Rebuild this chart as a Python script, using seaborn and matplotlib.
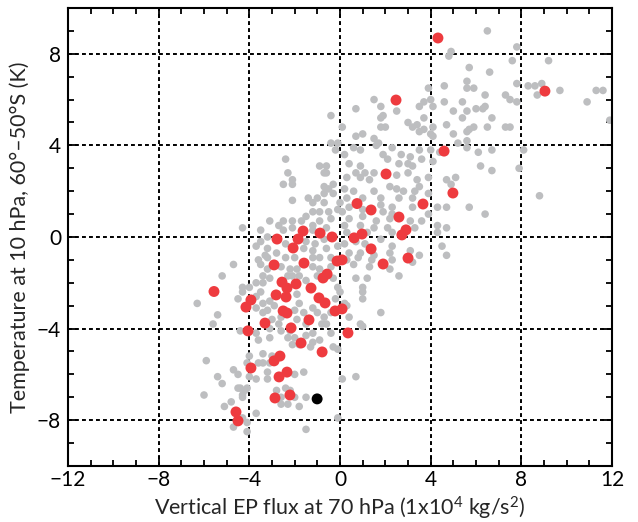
import matplotlib
matplotlib.use('Agg')
import pandas as pd
import matplotlib.pyplot as plt
import seaborn as sns
from matplotlib.ticker import MultipleLocator

# (EP flux, temperature) pairs, one list per group
gray_pts = [
    (6.5, 9.0), (7.8, 8.3), (4.9, 8.1), (4.8, 7.9), (7.6, 7.7), (9.2, 7.7), (5.7, 7.4), (6.6, 7.2),
    (5.6, 6.8), (5.6, 6.5), (5.9, 6.5), (4.6, 6.6), (3.9, 6.5), (7.8, 6.7), (8.3, 6.6), (8.6, 6.6),
    (8.9, 6.7), (8.7, 6.2), (9.7, 6.4), (11.3, 6.4), (11.6, 6.4), (10.9, 5.9), (11.9, 5.1), (7.3, 6.2),
    (7.5, 6.0), (7.8, 5.9), (6.4, 6.2), (5.4, 5.9), (4.6, 5.9), (3.7, 5.9), (4.0, 6.0), (4.1, 5.7),
    (3.5, 5.7), (1.5, 6.0), (0.7, 5.6), (1.8, 5.7), (2.5, 5.5), (1.9, 5.3), (1.8, 5.2), (3.0, 5.0),
    (3.7, 5.2), (3.2, 4.8), (3.4, 4.9), (3.5, 4.6), (3.7, 4.7), (4.0, 4.5), (4.1, 4.8), (4.1, 4.4),
    (1.8, 4.8), (2.0, 4.8), (5.0, 5.5), (5.6, 5.5), (6.0, 5.6), (6.3, 5.6), (6.4, 5.7), (6.7, 5.2),
    (5.4, 5.2), (4.7, 4.9), (5.9, 4.8), (5.7, 4.7), (5.6, 4.6), (6.5, 4.8), (7.3, 4.8), (7.5, 4.8),
    (5.0, 4.5), (5.6, 4.2), (5.2, 4.1), (0.7, 4.4), (1.0, 4.5), (1.5, 4.3), (1.7, 4.1), (0.1, 4.8),
    (0.6, 3.9), (1.6, 4.0), (2.3, 3.9), (3.5, 3.8), (4.0, 3.8), (5.6, 3.9), (6.7, 3.8), (8.1, 3.8),
    (6.1, 3.7), (6.2, 3.1), (6.7, 2.9), (7.9, 3.0), (8.8, 1.8), (5.7, 1.3), (6.4, 1.0),
    (0.9, 3.8), (0.2, 3.6), (1.9, 3.6), (2.1, 3.4), (2.7, 3.6), (3.1, 3.5), (3.0, 3.2), (2.6, 3.2),
    (3.2, 3.1), (3.6, 3.4), (4.1, 3.3), (4.4, 3.7), (0.4, 3.2), (0.9, 3.1), (0.7, 2.8), (1.1, 2.8),
    (1.5, 2.8), (0.3, 2.6), (0.9, 2.6), (1.3, 2.5), (2.5, 2.7), (3.0, 2.8), (3.4, 2.5), (3.9, 2.6),
    (4.7, 2.5), (5.1, 2.6), (4.9, 2.3), (0.2, 2.1), (0.6, 2.0), (1.5, 2.0), (2.2, 2.2), (2.5, 2.1),
    (2.8, 2.0), (3.3, 2.0), (3.9, 1.9), (3.5, 2.2), (0.3, 1.7), (1.0, 1.7), (1.8, 1.7), (2.6, 1.7),
    (3.2, 1.7), (4.3, 1.3), (4.7, 1.3), (0.4, 1.3), (1.8, 1.4), (2.3, 1.3), (3.2, 1.3), (0.1, 1.1),
    (1.0, 1.2), (1.9, 1.1), (2.3, 1.0), (3.9, 1.0), (0.4, 0.8), (1.0, 0.9), (1.6, 0.7), (2.2, 0.8),
    (3.1, 0.7), (3.6, 0.7), (0.2, 0.5), (0.9, 0.5), (1.5, 0.4), (2.1, 0.4), (3.3, 0.4), (4.3, 0.5),
    (4.7, 0.4), (0.3, 0.2), (1.2, 0.2), (2.3, 0.2), (4.3, 0.2), (0.2, -0.3), (0.7, -0.2), (1.1, -0.3),
    (1.8, -0.1), (2.3, -0.4), (4.5, -0.4), (4.7, -0.8), (0.4, -0.7), (0.9, -0.7), (1.5, -0.8), (2.2, -0.7),
    (3.1, -0.6), (3.5, -0.8), (0.3, -1.0), (0.8, -0.9), (1.4, -1.0), (2.3, -1.0), (3.2, -1.1), (0.6, -1.2),
    (1.3, -1.3), (2.2, -1.4), (0.7, -1.8), (1.2, -1.8), (2.6, -1.7), (1.0, -2.2),
    (1.0, -2.4), (0.2, -2.9), (0.3, -3.0), (1.0, -2.7), (1.8, -3.3), (0.9, -3.8), (1.0, -3.9),
    (0.7, -6.1), (0.1, -6.2),
    (-2.4, 3.4), (-2.3, 2.8), (-2.1, 2.5), (-2.5, 2.3), (-2.1, 2.3), (-2.1, 1.6), (-1.4, 1.7), (-1.2, 1.5),
    (-1.0, 1.7), (-0.9, 3.1), (-0.6, 3.1), (-0.7, 2.8), (-0.6, 2.8), (-0.4, 4.1), (-0.2, 3.8), (-0.7, 2.2),
    (-0.5, 2.1), (-0.3, 1.9), (-0.3, 2.3), (-0.7, 1.9), (0.0, 1.5), (-0.7, 1.5), (-0.5, 1.1), (-0.9, 1.1),
    (-0.1, 1.2), (-1.2, 1.1), (-1.5, 0.9), (-1.7, 0.7), (-2.1, 0.7), (-2.5, 0.7), (-2.7, 0.5), (-3.1, 0.7),
    (-3.5, 0.3), (-4.3, 0.4), (-2.5, 0.3), (-2.1, 0.4), (-1.2, 0.5), (-0.9, 0.7), (-0.4, 0.8), (-1.2, 0.3),
    (-0.6, 0.4), (-3.5, -0.2), (-3.2, 0.0), (-3.7, -0.4), (-3.2, -0.5), (-2.4, -0.3), (-1.5, -0.2), (-1.1, -0.3),
    (-0.7, -0.1), (-0.1, -0.4), (-0.6, -0.5), (-1.2, -0.6), (-1.6, -0.5), (-2.8, -0.7), (-3.3, -0.8), (-3.6, -1.0),
    (-3.2, -0.9), (-2.4, -0.9), (-2.0, -0.9), (-1.2, -0.9), (-0.9, -0.9), (-0.4, -0.9), (-4.7, -1.2), (-3.5, -1.2),
    (-3.2, -1.4), (-2.6, -1.3), (-2.2, -1.4), (-1.9, -1.4), (-1.2, -1.3), (-0.9, -1.4), (-0.4, -1.3), (-5.2, -1.7),
    (-4.3, -2.2), (-3.7, -2.0), (-3.4, -2.0), (-3.1, -1.8), (-1.8, -1.7), (-1.5, -1.9), (-1.0, -1.7), (-0.3, -1.8),
    (-3.4, -1.7), (-2.3, -1.7), (-2.1, -1.7), (-0.4, 5.3), (-0.1, 4.1),
    (-6.3, -2.9), (-5.4, -3.4), (-5.6, -3.8), (-4.5, -2.7), (-4.3, -2.4), (-4.0, -2.2), (-3.5, -2.4), (-3.7, -2.6),
    (-3.4, -2.9), (-3.7, -3.1), (-3.4, -3.3), (-3.1, -2.8), (-3.2, -3.2), (-3.0, -3.6), (-2.7, -3.8), (-2.6, -3.5),
    (-3.1, -4.0), (-2.9, -3.0), (-1.9, -2.5), (-1.8, -2.9), (-2.0, -3.2), (-1.6, -3.3), (-1.9, -3.6), (-1.2, -3.1),
    (-1.0, -3.3), (-0.7, -3.5), (-0.8, -3.8), (-0.6, -3.8), (-1.5, -3.8), (-0.4, -3.3), (-0.1, -2.2), (-0.2, -2.7),
    (0.0, -2.4), (0.4, -3.5), (-4.4, -4.1), (-3.7, -4.2), (-3.6, -4.5), (-3.1, -4.4), (-2.6, -4.1), (-2.3, -4.4),
    (-2.2, -4.1), (-2.0, -4.4), (-2.1, -4.7), (-1.8, -4.7), (-1.5, -4.3), (-1.2, -4.2), (-1.2, -4.6), (-1.3, -4.8),
    (-0.4, -4.2), (-0.9, -4.5), (-0.1, -4.9), (-0.3, -4.8), (-3.4, -5.1), (-3.0, -5.2), (-3.4, -5.5), (-3.1, -5.5),
    (-4.0, -5.2), (-4.1, -5.5), (-3.6, -5.5), (-4.7, -5.8), (-4.5, -6.0), (-5.9, -5.4), (-5.4, -6.1), (-5.2, -6.4),
    (-4.4, -6.6), (-4.2, -6.7), (-4.3, -6.9), (-4.3, -7.0), (-4.5, -6.6), (-4.1, -6.6), (-3.2, -5.9), (-3.2, -6.2),
    (-3.7, -6.2), (-4.0, -6.1), (-2.8, -6.7), (-2.4, -6.6), (-2.2, -6.7), (-2.6, -7.0), (-2.6, -7.3), (-2.3, -7.3),
    (-2.0, -7.0), (-1.5, -7.0), (-1.8, -7.4), (-1.6, -5.9), (-2.0, -6.0), (-6.0, -6.9), (-5.1, -7.4), (-4.8, -7.2),
    (-4.3, -7.9), (-4.1, -8.1), (-3.7, -7.7), (-4.7, -8.3), (-0.1, -7.9), (-1.5, -8.4), (-4.1, -8.5),
]

red_pts = [
    (4.32, 8.69), (2.47, 5.98), (9.04, 6.37), (4.59, 3.75), (2.03, 2.75), (4.98, 1.92), (0.75, 1.46),
    (1.37, 1.18), (3.66, 1.44), (2.60, 0.87), (2.91, 0.31), (2.73, 0.09), (0.97, 0.13), (0.62, -0.04),
    (1.37, -0.52), (1.90, -1.18), (3.00, -0.92), (0.09, -1.00), (-0.13, -1.05), (-1.63, 0.26),
    (-0.88, 0.17), (-0.35, 0.0), (-2.78, -0.09), (-1.85, -0.09), (-2.07, -0.48), (-1.59, -1.14),
    (-2.91, -1.22), (-0.57, -1.62), (-0.75, -1.79), (-2.56, -1.97), (-1.94, -2.05), (-2.34, -2.23),
    (-1.28, -2.23), (-5.56, -2.38), (-2.82, -2.53), (-2.38, -2.62), (-3.93, -2.75), (-0.93, -2.66),
    (-0.66, -2.88), (-4.15, -3.06), (0.09, -3.14), (-0.22, -3.23), (-2.51, -3.23), (-2.34, -3.32),
    (-1.37, -3.62), (-3.31, -3.76), (-2.16, -3.97), (-4.06, -4.10), (0.35, -4.19), (-1.72, -4.63),
    (-0.79, -5.02), (-2.65, -5.20), (-2.91, -5.41), (-3.93, -5.72), (-2.34, -5.90), (-2.69, -6.11),
    (-2.21, -6.90), (-2.87, -7.03), (-4.59, -7.64), (-4.50, -8.03),
]

black_pts = [(-1.01, -7.07)]

x_ticks = [-12, -8, -4, 0, 4, 8, 12]
y_ticks = [-8, -4, 0, 4, 8]
x_label = 'Vertical EP flux at 70 hPa (1x10$^4$ kg/s$^2$)'
y_label = 'Temperature at 10 hPa, 60°–50°S (K)'

gray_df = pd.DataFrame(gray_pts, columns=['flux', 'temp'])
red_df = pd.DataFrame(red_pts, columns=['flux', 'temp'])
black_df = pd.DataFrame(black_pts, columns=['flux', 'temp'])

sns.set_style('ticks')
plt.rcParams['font.family'] = ['Lato', 'DejaVu Sans']
plt.rcParams['mathtext.default'] = 'regular'

fig = plt.figure(figsize=(6.38, 5.22), dpi=100)
ax = fig.add_axes([0.1066, 0.1073, 0.8527, 0.8774])

sns.scatterplot(data=gray_df, x='flux', y='temp', color='#bdbec0', s=30, edgecolor='none', ax=ax)
sns.scatterplot(data=red_df, x='flux', y='temp', color='#ee3b3f', s=62, edgecolor='none', ax=ax)
sns.scatterplot(data=black_df, x='flux', y='temp', color='black', s=62, edgecolor='none', ax=ax)

ax.set_xlim(-12, 12)
ax.set_ylim(-10, 10)
ax.set_xticks(x_ticks)
ax.set_yticks(y_ticks)
ax.xaxis.set_minor_locator(MultipleLocator(1))
ax.yaxis.set_minor_locator(MultipleLocator(1))

ax.set_axisbelow(True)
ax.grid(True, which='major', color='black', linestyle=(0, (2, 1.6)), linewidth=1.4)

for sp in ax.spines.values():
    sp.set_linewidth(1.5)
    sp.set_color('black')

ax.tick_params(which='both', direction='in', top=True, right=True, width=1.3, colors='black')
ax.tick_params(which='major', length=7, labelsize=15)
ax.tick_params(axis='x', which='major', pad=3)
ax.tick_params(axis='y', which='major', pad=5)
ax.tick_params(which='minor', length=4)

ax.set_xlabel(x_label, fontsize=15.5, labelpad=3)
ax.set_ylabel(y_label, fontsize=15.5, labelpad=5)

fig.savefig('out.png', dpi=100)
